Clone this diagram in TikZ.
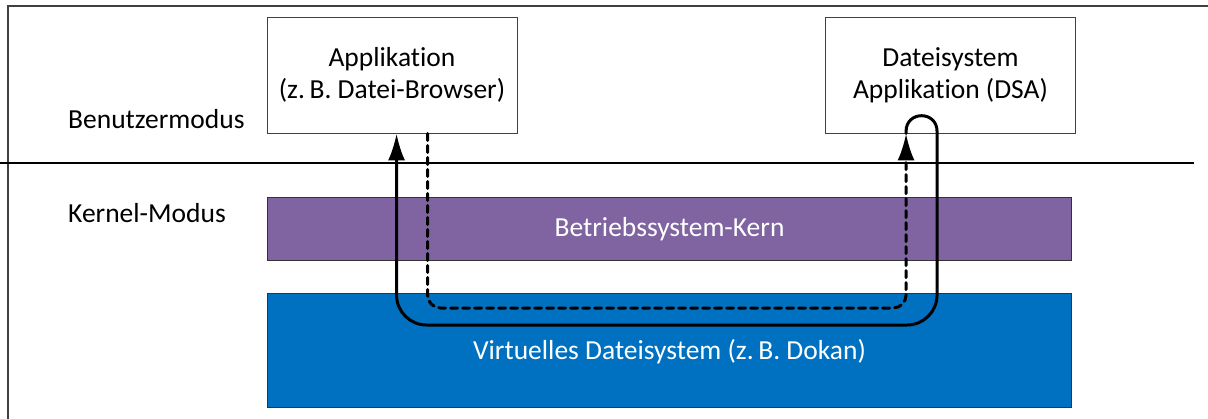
\documentclass[tikz,border=0pt]{standalone}
\usepackage{fontspec}
\setmainfont{Carlito}[Ligatures=NoCommon]
\usetikzlibrary{arrows.meta,calc}
\definecolor{kernpurple}{HTML}{8064A2}
\definecolor{vfsblue}{HTML}{0070C0}
\definecolor{framegray}{HTML}{404040}
\tikzset{
  txt/.style={font=\fontsize{27.5}{32}\selectfont, inner sep=0pt},
  appbox/.style={draw=framegray, line width=0.9pt, fill=white, minimum width=250pt,
    minimum height=116pt, align=center, font=\fontsize{27.5}{32}\selectfont, inner sep=0pt},
  layerbar/.style={draw=black!80, line width=0.9pt, minimum width=804pt, text=white,
    font=\fontsize{27.5}{32}\selectfont, inner sep=0pt},
  flow/.style={line width=3pt, line cap=round, line join=round},
  tip/.style={-{Latex[length=27pt,width=17pt]}},
}
\begin{document}
\begin{tikzpicture}[x=1pt,y=-1pt]
  \useasboundingbox (0,0) rectangle (1208,418);
  % outer frame, running past the right and lower edges
  \draw[framegray, line width=1.4pt] (8,430) -- (8,6) -- (1220,6);
  % border between user and kernel mode
  \draw[black, line width=1.8pt] (0,163) -- (1194,163);

  \node[txt, anchor=base west] (umode) at (68,128) {Benutzermodus};
  \node[txt, anchor=base west] (kmode) at (68,222) {Kernel-Modus};

  \node[layerbar, fill=kernpurple, minimum height=63pt] (kern) at (669.5,229) {Betriebssystem-Kern};
  \node[layerbar, fill=vfsblue, minimum height=114pt] (vfs) at (669.5,350) {};
  \node[txt, text=white] (vfslabel) at (669.5,352) {Virtuelles Dateisystem (z.\,B. Dokan)};

  \node[appbox] (app) at (392,75) {Applikation\\(z.\,B. Datei-Browser)};
  \node[appbox] (dsa) at (950.5,75) {Dateisystem\\Applikation (DSA)};

  % attachment points on the lower box edges
  \coordinate (appin)  at ($(app.south west)+(130,0)$);
  \coordinate (appout) at ($(app.south west)+(161,0)$);
  \coordinate (dsain)  at ($(dsa.south west)+(81,0)$);
  \coordinate (dsaout) at ($(dsa.south west)+(112,0)$);

  % request: application -> DSA (dashed)
  \draw[flow, dash pattern=on 7pt off 5pt, tip, rounded corners=13pt]
    (appout) -- (appout |- 0,308) -- (dsain |- 0,308) -- (dsain);

  % reply: DSA -> application (solid), with a small loop inside the DSA box
  \draw[flow, tip]
    (dsain) -- ($(dsain)+(0,-2)$)
    .. controls ($(dsain)+(0,-23)$) and ($(dsaout)+(0,-23)$) .. ($(dsaout)+(0,-2)$)
    [rounded corners=30pt]
    -- (dsaout |- 0,325) -- (appin |- 0,325) -- (appin);
\end{tikzpicture}
\end{document}
